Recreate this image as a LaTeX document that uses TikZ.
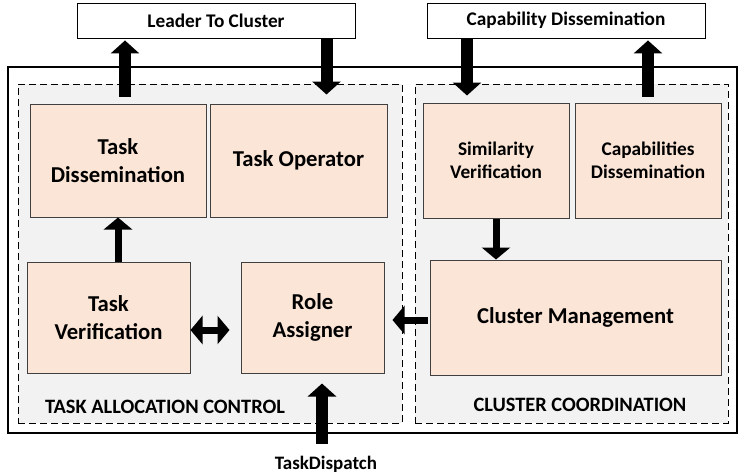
\documentclass[tikz,border=0pt]{standalone}
\usepackage{fontspec}
\setmainfont{Carlito}
\usetikzlibrary{arrows.meta}
\definecolor{boxfill}{HTML}{FBE5D6}
\definecolor{grpfill}{HTML}{F2F2F2}
\definecolor{boxline}{HTML}{404040}
\tikzset{
  module/.style={draw=boxline, line width=1pt, fill=boxfill, align=center,
    inner sep=0pt, font=\bfseries\fontsize{22.7}{28}\selectfont},
  submodule/.style={module, font=\bfseries\fontsize{19.3}{23.5}\selectfont},
  group/.style={draw, dashed, dash pattern=on 7pt off 4pt, line width=0.9pt,
    fill=grpfill, inner sep=0pt},
  frame/.style={draw, line width=1.8pt, fill=white, inner sep=0pt},
  channel/.style={draw, line width=0.9pt, fill=white, inner sep=0pt,
    font=\bfseries\fontsize{19.3}{22}\selectfont},
  grouplabel/.style={inner sep=0pt, font=\bfseries\fontsize{20.4}{24}\selectfont},
  portlabel/.style={inner sep=0pt, font=\bfseries\fontsize{19}{22}\selectfont},
  bigarrow/.style={line width=12pt, -{Triangle[width=28pt,length=13pt]}},
  smallarrow/.style={line width=7pt, -{Triangle[width=28pt,length=12pt]}},
  dblarrow/.style={line width=7pt,
    {Triangle[width=28pt,length=12pt]}-{Triangle[width=28pt,length=12pt]}}
}
\begin{document}
\begin{tikzpicture}[x=1pt,y=-1pt]
    % y runs downward, like the screen
    \useasboundingbox (0,0) rectangle (747,475);
    % Canales externos
    \node[channel, minimum width=278pt, minimum height=35pt] (leader) at (216,20.5) {Leader To Cluster};
    \node[channel, minimum width=278pt, minimum height=35pt] (capdiss) at (566,20.5) {Capability Dissemination};
    % Marco y grupos
    \node[frame, minimum width=729pt, minimum height=366pt] (frame) at (372.5,250) {};
    \node[group, minimum width=384pt, minimum height=339pt] (alloc) at (210,253.5) {};
    \node[group, minimum width=313pt, minimum height=339pt] (coord) at (571.5,253.5) {};
    \node[grouplabel] (alloclbl) at (165,407) {TASK ALLOCATION CONTROL};
    \node[grouplabel] (coordlbl) at (580,405) {CLUSTER COORDINATION};
    % Modulos
    \node[module, minimum width=176pt, minimum height=113pt] (tdiss) at (118,160.5) {Task\\Dissemination};
    \node[module, minimum width=177pt, minimum height=113pt] (toper) at (298.5,160.5) {Task Operator};
    \node[module, minimum width=163pt, minimum height=111pt] (tver) at (108.5,317.5) {Task\\Verification};
    \node[module, minimum width=143pt, minimum height=111pt] (role) at (312.5,317.5) {Role\\Assigner};
    \node[submodule, minimum width=146pt, minimum height=115pt] (simv) at (496,160.5) {Similarity\\Verification};
    \node[submodule, minimum width=146pt, minimum height=115pt] (capd) at (648,160.5) {Capabilities\\Dissemination};
    \node[module, minimum width=291pt, minimum height=115pt] (clmg) at (575.5,317.5) {Cluster Management};
    \node[portlabel] (dispatch) at (326,464) {TaskDispatch};
    % Flechas
    \draw[bigarrow] ([xshift=7pt,yshift=7pt]tdiss.north) -- ([xshift=-91pt,yshift=-2pt]leader.south);
    \draw[bigarrow] ([xshift=110.5pt]leader.south) -- ([xshift=28pt,yshift=9pt]toper.north);
    \draw[bigarrow] ([xshift=-99pt]capdiss.south) -- ([xshift=-29pt,yshift=7pt]simv.north);
    \draw[bigarrow] ([yshift=6pt]capd.north) -- ([xshift=82pt,yshift=-2pt]capdiss.south);
    \draw[smallarrow] ([xshift=9.5pt]tver.north) -- (tdiss.south);
    \draw[smallarrow] (simv.south) -- (simv.south |- clmg.north);
    \draw[dblarrow] ([yshift=-12.5pt]tver.east) -- ([xshift=-11pt,yshift=-12.5pt]role.west);
    \draw[smallarrow] ([xshift=-2pt,yshift=-2.5pt]clmg.west) -- ([xshift=8pt,yshift=-2.5pt]role.east);
    \draw[bigarrow] ([xshift=-4pt,yshift=12pt]dispatch.north) -- ([xshift=9.5pt,yshift=-10pt]role.south);
\end{tikzpicture}
\end{document}
